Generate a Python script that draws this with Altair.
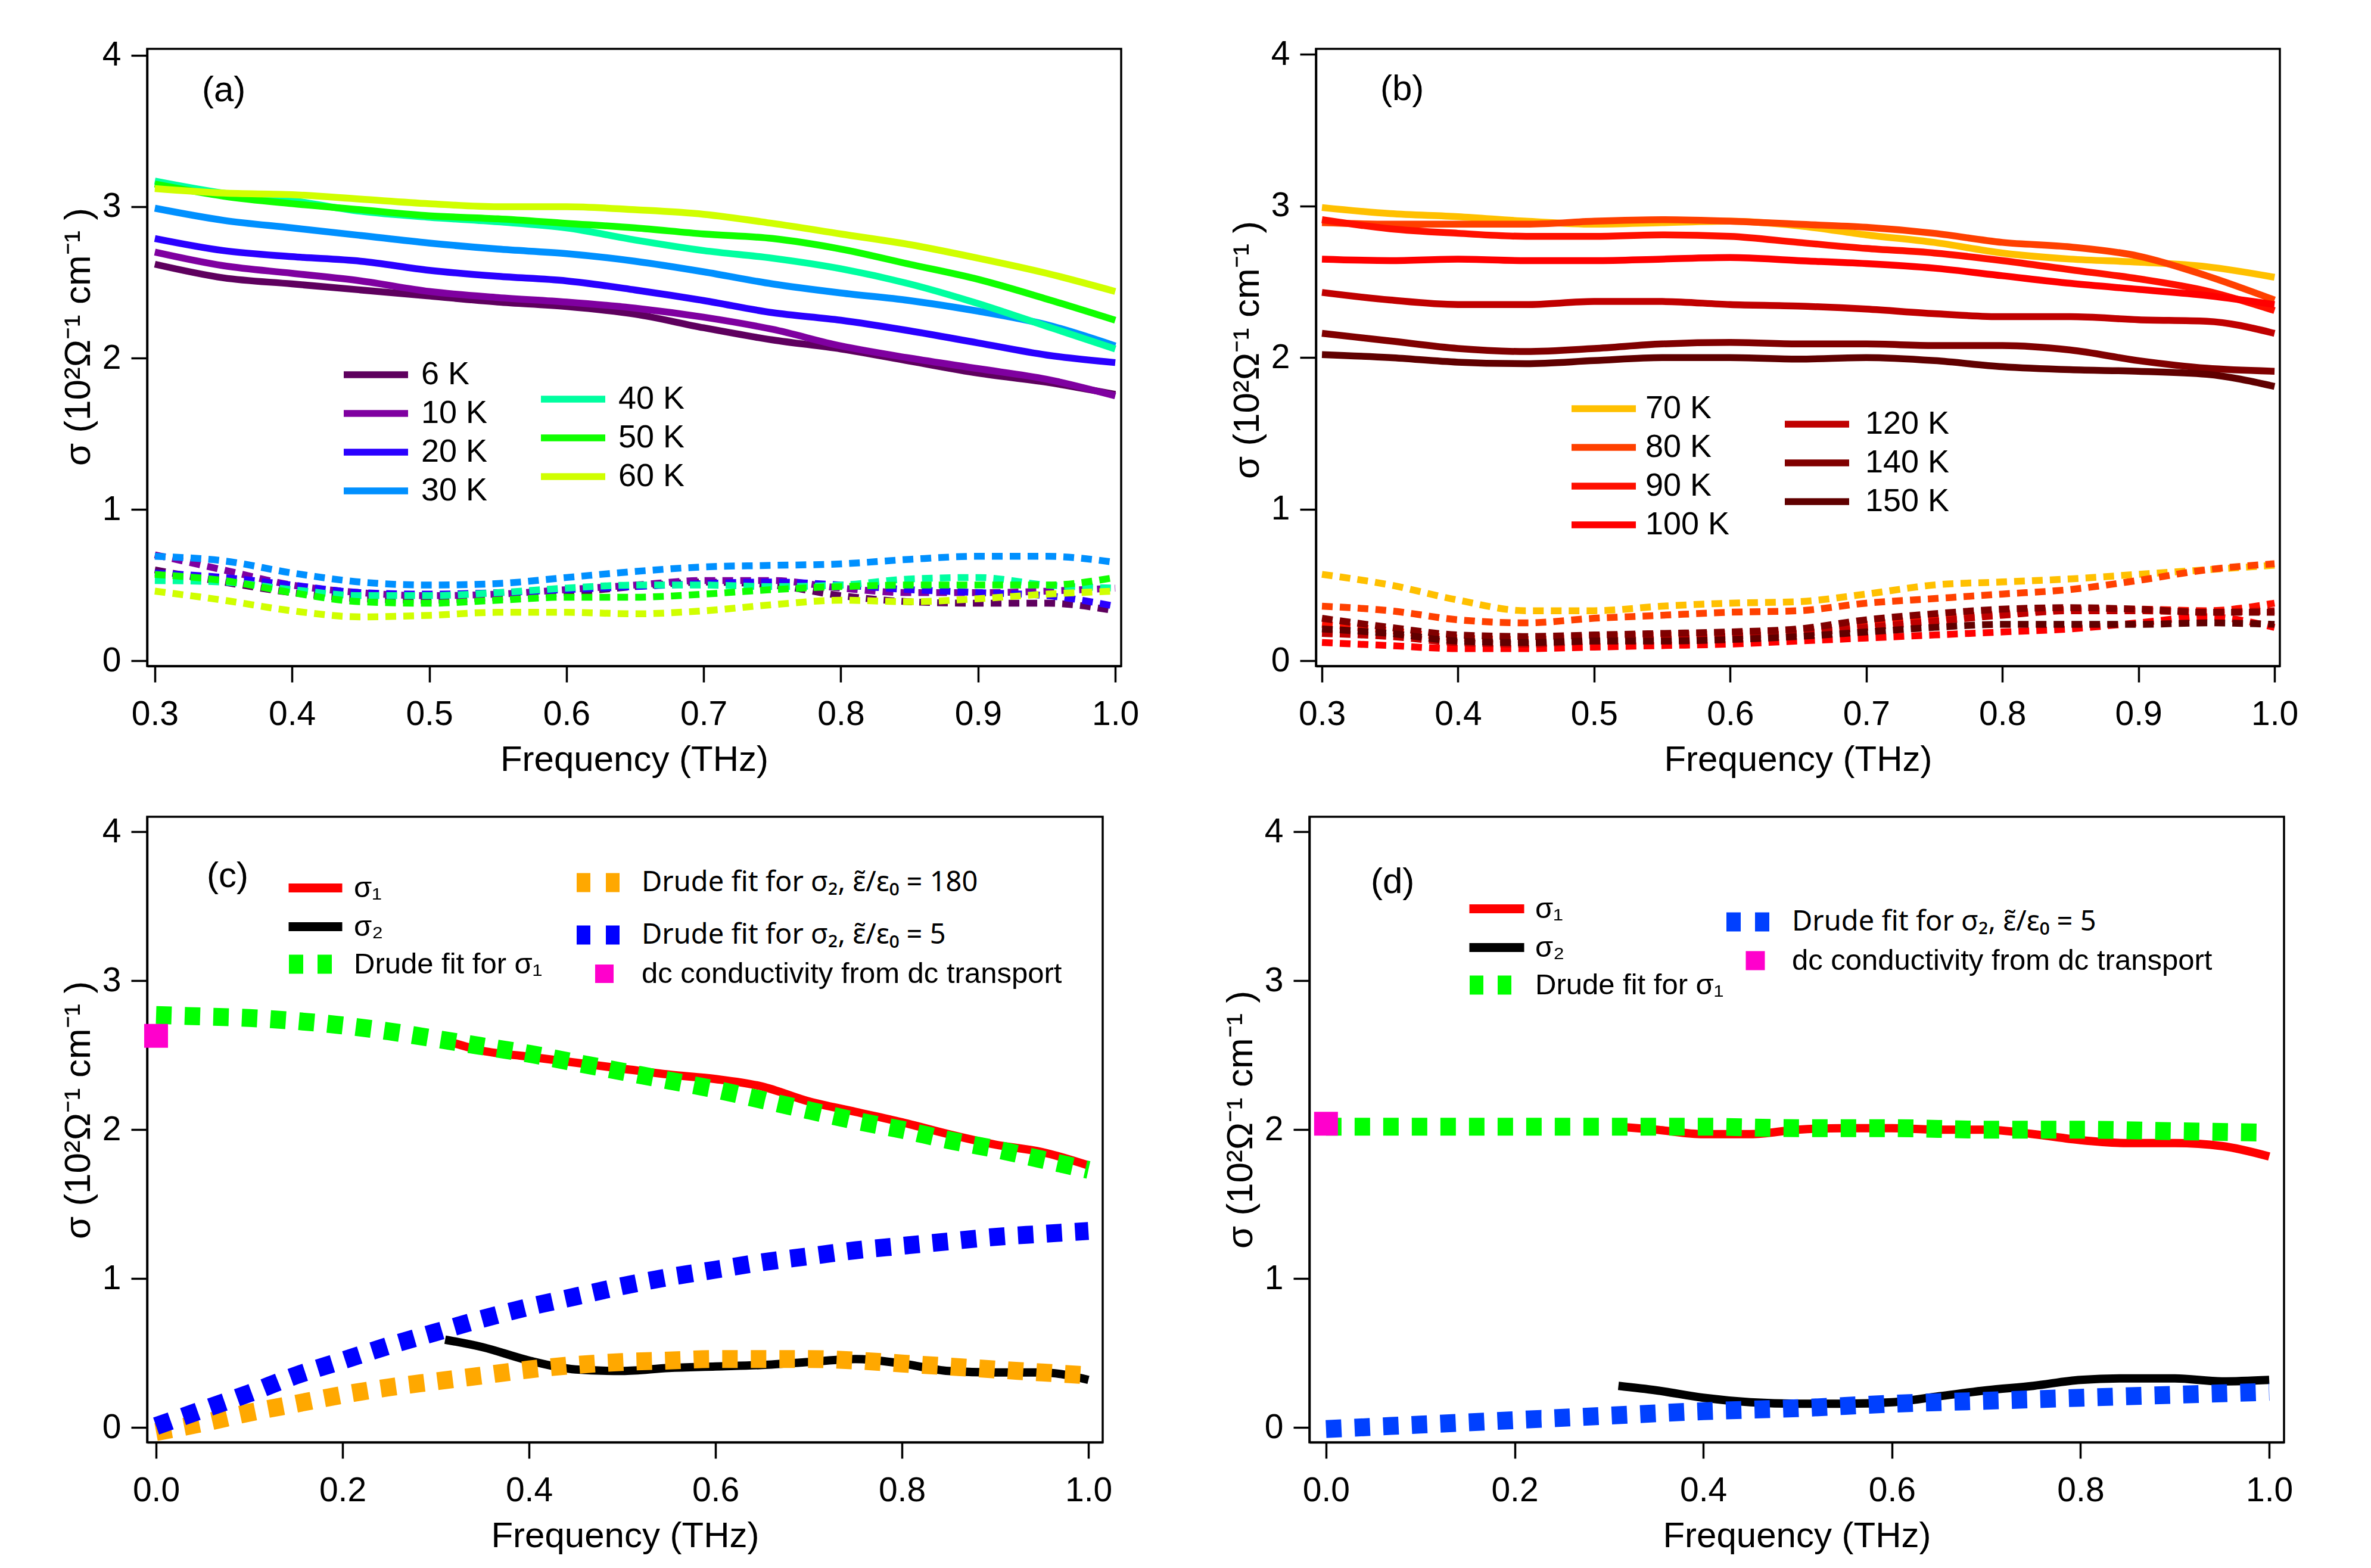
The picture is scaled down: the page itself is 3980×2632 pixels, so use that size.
import altair as alt
import pandas as pd

FONT = "Liberation Sans"

# ---------------- data: panel (a) ----------------
F = [0.30, 0.35, 0.40, 0.45, 0.50, 0.55, 0.60, 0.65, 0.70, 0.75, 0.80, 0.85, 0.90, 0.95, 1.00]
TEMPS_A1 = ["6 K", "10 K", "20 K", "30 K"]
TEMPS_A2 = ["40 K", "50 K", "60 K"]
COLORS_A1 = ["#5E005E", "#7F00A0", "#2A00FF", "#0090FF"]
COLORS_A2 = ["#00FFA0", "#10FF00", "#D0FF00"]
sigma1_a = {
    "6 K":  [2.62, 2.53, 2.49, 2.45, 2.41, 2.37, 2.34, 2.29, 2.20, 2.12, 2.06, 1.98, 1.90, 1.84, 1.76],
    "10 K": [2.70, 2.61, 2.56, 2.51, 2.44, 2.40, 2.37, 2.33, 2.27, 2.19, 2.08, 2.00, 1.93, 1.86, 1.75],
    "20 K": [2.79, 2.71, 2.67, 2.64, 2.58, 2.54, 2.51, 2.45, 2.38, 2.30, 2.25, 2.18, 2.10, 2.02, 1.97],
    "30 K": [2.99, 2.91, 2.86, 2.81, 2.76, 2.72, 2.69, 2.64, 2.57, 2.49, 2.43, 2.38, 2.31, 2.22, 2.08],
    "40 K": [3.17, 3.09, 3.04, 2.97, 2.93, 2.90, 2.86, 2.78, 2.71, 2.66, 2.59, 2.49, 2.36, 2.21, 2.06],
    "50 K": [3.15, 3.07, 3.02, 2.98, 2.94, 2.92, 2.89, 2.86, 2.82, 2.79, 2.72, 2.62, 2.52, 2.39, 2.25],
    "60 K": [3.12, 3.09, 3.08, 3.05, 3.02, 3.00, 3.00, 2.98, 2.95, 2.89, 2.82, 2.75, 2.66, 2.56, 2.44],
}
sigma2_a = {
    "6 K":  [0.60, 0.52, 0.45, 0.41, 0.40, 0.42, 0.45, 0.49, 0.52, 0.50, 0.43, 0.39, 0.38, 0.38, 0.33],
    "10 K": [0.70, 0.60, 0.50, 0.45, 0.43, 0.44, 0.47, 0.50, 0.53, 0.53, 0.48, 0.45, 0.45, 0.46, 0.48],
    "20 K": [0.58, 0.55, 0.50, 0.45, 0.44, 0.45, 0.47, 0.49, 0.51, 0.52, 0.50, 0.47, 0.45, 0.43, 0.36],
    "30 K": [0.69, 0.66, 0.58, 0.52, 0.50, 0.51, 0.55, 0.59, 0.62, 0.63, 0.64, 0.67, 0.69, 0.69, 0.65],
    "40 K": [0.53, 0.52, 0.47, 0.43, 0.43, 0.45, 0.48, 0.50, 0.50, 0.49, 0.50, 0.54, 0.55, 0.50, 0.48],
    "50 K": [0.57, 0.53, 0.45, 0.39, 0.38, 0.40, 0.42, 0.42, 0.44, 0.47, 0.49, 0.50, 0.50, 0.50, 0.55],
    "60 K": [0.46, 0.40, 0.33, 0.29, 0.30, 0.32, 0.32, 0.31, 0.33, 0.37, 0.40, 0.39, 0.41, 0.44, 0.46],
}

# ---------------- data: panel (b) ----------------
TEMPS_B1 = ["70 K", "80 K", "90 K", "100 K"]
TEMPS_B2 = ["120 K", "140 K", "150 K"]
COLORS_B1 = ["#FFC000", "#FF4000", "#FF1000", "#FF0000"]
COLORS_B2 = ["#C00000", "#800000", "#600000"]
sigma1_b = {
    "70 K":  [2.99, 2.95, 2.93, 2.90, 2.88, 2.89, 2.90, 2.87, 2.81, 2.76, 2.69, 2.65, 2.63, 2.60, 2.53],
    "80 K":  [2.89, 2.88, 2.88, 2.88, 2.90, 2.91, 2.90, 2.88, 2.86, 2.82, 2.76, 2.73, 2.67, 2.54, 2.38],
    "90 K":  [2.91, 2.85, 2.82, 2.80, 2.80, 2.81, 2.80, 2.76, 2.72, 2.69, 2.64, 2.58, 2.52, 2.44, 2.31],
    "100 K": [2.65, 2.64, 2.65, 2.64, 2.64, 2.65, 2.66, 2.64, 2.62, 2.59, 2.54, 2.49, 2.45, 2.41, 2.35],
    "120 K": [2.43, 2.38, 2.35, 2.35, 2.37, 2.37, 2.35, 2.34, 2.32, 2.29, 2.27, 2.27, 2.25, 2.24, 2.16],
    "140 K": [2.16, 2.11, 2.06, 2.04, 2.06, 2.09, 2.10, 2.09, 2.09, 2.08, 2.08, 2.05, 1.98, 1.93, 1.91],
    "150 K": [2.02, 2.00, 1.97, 1.96, 1.98, 2.00, 2.00, 1.99, 2.00, 1.98, 1.94, 1.92, 1.91, 1.89, 1.81],
}
sigma2_b = {
    "70 K":  [0.57, 0.50, 0.40, 0.33, 0.33, 0.36, 0.38, 0.39, 0.44, 0.50, 0.52, 0.54, 0.57, 0.60, 0.63],
    "80 K":  [0.36, 0.33, 0.27, 0.25, 0.28, 0.30, 0.32, 0.33, 0.38, 0.41, 0.44, 0.47, 0.53, 0.60, 0.64],
    "90 K":  [0.24, 0.20, 0.15, 0.14, 0.16, 0.17, 0.18, 0.20, 0.24, 0.28, 0.31, 0.34, 0.34, 0.33, 0.38],
    "100 K": [0.12, 0.10, 0.08, 0.08, 0.09, 0.10, 0.11, 0.13, 0.15, 0.17, 0.19, 0.21, 0.25, 0.29, 0.22],
    "120 K": [0.18, 0.16, 0.12, 0.11, 0.13, 0.14, 0.16, 0.18, 0.22, 0.26, 0.30, 0.33, 0.33, 0.32, 0.33],
    "140 K": [0.28, 0.22, 0.17, 0.16, 0.17, 0.18, 0.19, 0.21, 0.27, 0.31, 0.34, 0.35, 0.34, 0.32, 0.32],
    "150 K": [0.21, 0.18, 0.13, 0.12, 0.13, 0.13, 0.14, 0.16, 0.19, 0.22, 0.24, 0.24, 0.24, 0.25, 0.24],
}

# ---------------- data: panels (c), (d) ----------------
F_MEAS = [0.31, 0.35, 0.40, 0.45, 0.50, 0.55, 0.60, 0.65, 0.70, 0.75, 0.80, 0.85, 0.90, 0.95, 1.00]
F_FIT_C = [0.00, 0.05, 0.10, 0.15, 0.20, 0.25, 0.30, 0.35, 0.40, 0.45, 0.50,
           0.55, 0.60, 0.65, 0.70, 0.75, 0.80, 0.85, 0.90, 0.95, 1.00]
F_FIT_D = [0.0, 0.1, 0.2, 0.3, 0.4, 0.5, 0.6, 0.7, 0.8, 0.9, 1.0]

sig1_c = [2.60, 2.53, 2.49, 2.45, 2.41, 2.37, 2.34, 2.29, 2.19, 2.12, 2.05, 1.97, 1.90, 1.85, 1.76]
sig2_c = [0.59, 0.54, 0.45, 0.39, 0.38, 0.40, 0.41, 0.42, 0.44, 0.46, 0.43, 0.38, 0.37, 0.37, 0.32]
fit1_c = [2.77, 2.76, 2.75, 2.73, 2.70, 2.66, 2.61, 2.56, 2.51, 2.45, 2.39,
          2.33, 2.27, 2.20, 2.13, 2.06, 2.00, 1.93, 1.87, 1.80, 1.73]
fit2_180_c = [-0.03, 0.03, 0.10, 0.16, 0.22, 0.27, 0.31, 0.35, 0.39, 0.42, 0.44,
              0.45, 0.46, 0.46, 0.46, 0.45, 0.43, 0.41, 0.39, 0.37, 0.35]
fit2_5_c = [0.01, 0.12, 0.23, 0.35, 0.45, 0.55, 0.64, 0.73, 0.81, 0.88, 0.95,
            1.01, 1.06, 1.11, 1.15, 1.19, 1.22, 1.25, 1.28, 1.30, 1.32]
dc_c = [2.63]

sig1_d = [2.02, 2.00, 1.97, 1.97, 2.00, 2.01, 2.01, 2.00, 2.00, 1.97, 1.93, 1.91, 1.91, 1.89, 1.82]
sig2_d = [0.28, 0.25, 0.20, 0.17, 0.16, 0.16, 0.17, 0.21, 0.25, 0.28, 0.32, 0.33, 0.33, 0.31, 0.32]
fit1_d = [2.02, 2.02, 2.02, 2.02, 2.02, 2.01, 2.01, 2.00, 2.00, 1.99, 1.98]
fit2_5_d = [-0.01, 0.02, 0.05, 0.08, 0.11, 0.13, 0.16, 0.18, 0.20, 0.22, 0.24]
dc_d = [2.04]

LAB_S = ["σ₁", "σ₂"]
LAB_FIT1 = ["Drude fit for σ₁"]
LAB_FIT180 = ["Drude fit for σ₂, ε̃/ε₀ = 180"]
LAB_FIT5 = ["Drude fit for σ₂, ε̃/ε₀ = 5"]
LAB_DC = ["dc conductivity from dc transport"]
PANEL_LABELS = ["(a)", "(b)", "(c)", "(d)"]

X_TITLE = "Frequency (THz)"
Y_TITLE = "σ (10²Ω⁻¹ cm⁻¹ )"


def long_df(xs, series):
    rows = []
    for name, vals in series.items():
        for x, v in zip(xs, vals):
            rows.append({"f": x, "s": v, "k": name})
    return pd.DataFrame(rows)


def xenc(domain, ticks, fmt):
    return alt.X("f:Q", scale=alt.Scale(domain=domain, nice=False, zero=False),
                 axis=alt.Axis(values=ticks, format=fmt, title=X_TITLE, labelPadding=26,
                               titlePadding=19))


def yenc(domain, tpad, ty):
    return alt.Y("s:Q", scale=alt.Scale(domain=domain, nice=False, zero=False),
                 axis=alt.Axis(values=[0, 1, 2, 3, 4], format="d", title=Y_TITLE,
                               labelPadding=17, titlePadding=tpad, titleY=ty,
                               titleFontSize=62))


def leg(x, y, fs, size, sw, h, rp, lo, stype="stroke", dash=None, font=FONT):
    kw = dict(orient="none", legendX=x, legendY=y, title=None, labelFontSize=fs,
              labelFont=font, labelColor="black", symbolType=stype, symbolSize=size,
              symbolStrokeWidth=sw, clipHeight=h, rowPadding=rp, labelOffset=lo,
              padding=0, labelLimit=0, symbolOpacity=1, direction="vertical")
    if dash is not None:
        kw["symbolDash"] = dash
    return alt.Legend(**kw)


def label_layer(text, px, py):
    return alt.Chart(pd.DataFrame({"t": [text]})).mark_text(
        align="left", baseline="middle", fontSize=60, font=FONT, color="black"
    ).encode(text="t:N", x=alt.value(px), y=alt.value(py))


def temp_panel(s1, s2, g1, c1, g2, c2, xdom, ydom, w, h, legs, lab, lpos, ty):
    X = xenc(xdom, [0.3, 0.4, 0.5, 0.6, 0.7, 0.8, 0.9, 1.0], ".1f")
    Y = yenc(ydom, 8, ty)
    layers = []
    for grp, cols in ((g1, c1), (g2, c2)):
        d = long_df(F, {k: s2[k] for k in grp})
        layers.append(alt.Chart(d).mark_line(strokeWidth=11.5, strokeDash=[18, 12],
                                             interpolate="monotone").encode(
            x=X, y=Y, color=alt.Color("k:N", scale=alt.Scale(domain=grp, range=cols), legend=None)))
    for (grp, cols), lg in zip(((g1, c1), (g2, c2)), legs):
        d = long_df(F, {k: s1[k] for k in grp})
        layers.append(alt.Chart(d).mark_line(strokeWidth=11.5, interpolate="monotone").encode(
            x=X, y=Y, color=alt.Color("k:N", scale=alt.Scale(domain=grp, range=cols), legend=lg)))
    layers.append(label_layer(lab, *lpos))
    return alt.layer(*layers).resolve_scale(color="independent").properties(width=w, height=h)


def line_layer(xs, vals, name, color, width, dash, X, Y, lg):
    d = pd.DataFrame({"f": xs, "s": vals, "k": [name] * len(xs)})
    kw = dict(strokeWidth=width, interpolate="monotone")
    if dash is not None:
        kw["strokeDash"] = dash
    return alt.Chart(d).mark_line(**kw).encode(
        x=X, y=Y, color=alt.Color("k:N", scale=alt.Scale(domain=[name], range=[color]), legend=lg))


# ---------------- panel (a) ----------------
pa = temp_panel(sigma1_a, sigma2_a, TEMPS_A1, COLORS_A1, TEMPS_A2, COLORS_A2,
                [0.2944, 1.0043], [-0.035, 4.043], 1635, 1036,
                [leg(324, 520, 54, 108 * 108, 11.5, 54, 11, 16),
                 leg(655, 561, 54, 108 * 108, 11.5, 54, 11, 16)],
                PANEL_LABELS[0], (92, 70), 483)

# ---------------- panel (b) ----------------
pb = temp_panel(sigma1_b, sigma2_b, TEMPS_B1, COLORS_B1, TEMPS_B2, COLORS_B2,
                [0.2956, 1.0039], [-0.035, 4.037], 1618, 1036,
                [leg(423, 577, 54, 108 * 108, 11.5, 54, 11, 10),
                 leg(781, 603, 54, 108 * 108, 11.5, 54, 11, 21)],
                PANEL_LABELS[1], (108, 68), 505)

# ---------------- panel (c) ----------------
Xc = xenc([-0.0096, 1.0153], [0.0, 0.2, 0.4, 0.6, 0.8, 1.0], ".1f")
Yc = yenc([-0.099, 4.101], 8, 492)
d_s_c = pd.DataFrame({"f": F_MEAS * 2, "s": sig1_c + sig2_c,
                      "k": [LAB_S[0]] * len(F_MEAS) + [LAB_S[1]] * len(F_MEAS)})
c_s = alt.Chart(d_s_c).mark_line(strokeWidth=14, interpolate="monotone").encode(
    x=Xc, y=Yc, color=alt.Color("k:N", scale=alt.Scale(domain=LAB_S, range=["#FF0000", "#000000"]),
                                legend=leg(230, 95, 49, 90 * 90, 15, 49, 15, 12)))
c_o = line_layer(F_FIT_C, fit2_180_c, LAB_FIT180[0], "#FFA800", 30, [26, 22], Xc, Yc,
                 leg(705, 86, 47, 90 * 90, 32, 49, 15, 3, dash=[23, 26], font="Noto Sans"))
c_b = line_layer(F_FIT_C, fit2_5_c, LAB_FIT5[0], "#0000FF", 30, [26, 22], Xc, Yc,
                 leg(705, 174, 47, 90 * 90, 32, 49, 15, 3, dash=[23, 26], font="Noto Sans"))
c_g = line_layer(F_FIT_C, fit1_c, LAB_FIT1[0], "#00FF00", 30, [26, 22], Xc, Yc,
                 leg(222, 223, 49, 90 * 90, 32, 49, 15, 3, dash=[24, 24]))
c_dc = alt.Chart(pd.DataFrame({"f": [0.0], "s": dc_c, "k": LAB_DC})).mark_square(
    size=1600, opacity=1, filled=True).encode(
    x=Xc, y=Yc, color=alt.Color("k:N", scale=alt.Scale(domain=LAB_DC, range=["#FF00CC"]),
                                legend=leg(743, 239, 49, 31 * 31, 0, 49, 15, 38, stype="square")))
pc = alt.layer(c_s, c_o, c_b, c_g, c_dc, label_layer(PANEL_LABELS[2], 100, 100)).resolve_scale(
    color="independent").properties(width=1604, height=1050)

# ---------------- panel (d) ----------------
Xd = xenc([-0.0176, 1.0157], [0.0, 0.2, 0.4, 0.6, 0.8, 1.0], ".1f")
Yd = yenc([-0.099, 4.101], 8, 508)
d_s_d = pd.DataFrame({"f": F_MEAS * 2, "s": sig1_d + sig2_d,
                      "k": [LAB_S[0]] * len(F_MEAS) + [LAB_S[1]] * len(F_MEAS)})
d_s = alt.Chart(d_s_d).mark_line(strokeWidth=14, interpolate="monotone").encode(
    x=Xd, y=Yd, color=alt.Color("k:N", scale=alt.Scale(domain=LAB_S, range=["#FF0000", "#000000"]),
                                legend=leg(261, 130, 49, 92 * 92, 15, 49, 15, 11)))
d_b = line_layer(F_FIT_D, fit2_5_d, LAB_FIT5[0], "#0040FF", 30, [26, 22], Xd, Yd,
                 leg(684, 152, 47, 90 * 90, 32, 49, 15, 4, dash=[24, 24], font="Noto Sans"))
d_g = line_layer(F_FIT_D, fit1_d, LAB_FIT1[0], "#00FF00", 30, [26, 22], Xd, Yd,
                 leg(253, 258, 49, 92 * 92, 32, 49, 15, 2, dash=[23, 24]))
d_dc = alt.Chart(pd.DataFrame({"f": [0.0], "s": dc_d, "k": LAB_DC})).mark_square(
    size=1600, opacity=1, filled=True).encode(
    x=Xd, y=Yd, color=alt.Color("k:N", scale=alt.Scale(domain=LAB_DC, range=["#FF00CC"]),
                                legend=leg(724, 217, 49, 32 * 32, 0, 49, 15, 37, stype="square")))
pd_ = alt.layer(d_s, d_b, d_g, d_dc, label_layer(PANEL_LABELS[3], 103, 110)).resolve_scale(
    color="independent").properties(width=1636, height=1050)

top = alt.hconcat(pa, pb, spacing=146)
bottom = alt.hconcat(pc, pd_, spacing=160)
chart = alt.vconcat(top, bottom, spacing=58).properties(
    padding={"left": 90, "top": 52, "right": 10, "bottom": 10}
).configure(font=FONT, background="white").configure_view(
    stroke="black", strokeWidth=3.5
).configure_axis(
    grid=False, labelFont=FONT, titleFont=FONT, labelFontSize=57, titleFontSize=60,
    titleFontWeight="normal", labelColor="black", titleColor="black",
    tickSize=27, tickWidth=3.5, tickColor="black", domainWidth=3.5, domainColor="black",
    labelFlush=False, labelOverlap=False
)

chart.save("out.html", embed_options={"renderer": "svg", "actions": False})
